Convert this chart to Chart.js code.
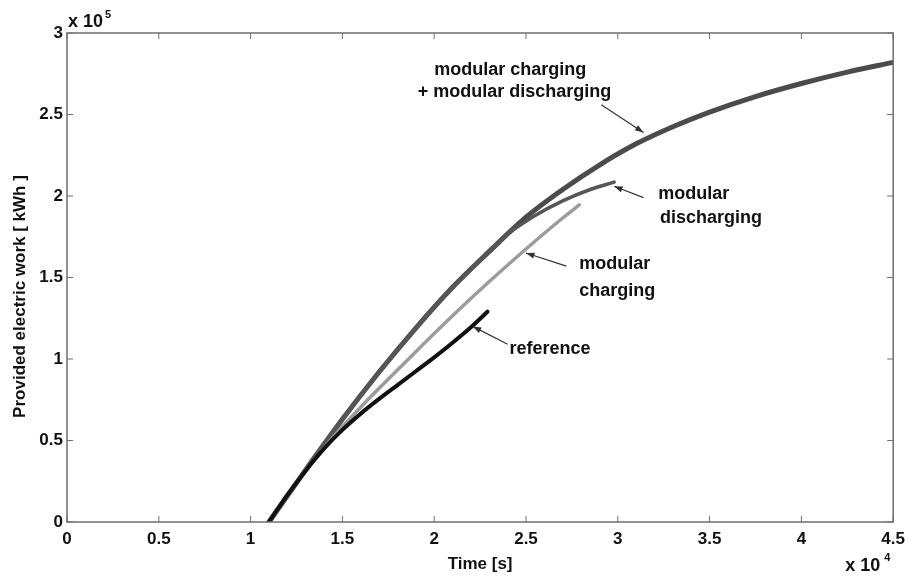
<!DOCTYPE html>
<html>
<head>
<meta charset="utf-8">
<script src="https://cdn.jsdelivr.net/npm/chart.js@4"></script>
<style>
    html, body { margin: 0; padding: 0; background: #fff; }
    #wrap { width: 912px; height: 579px; }
</style>
</head>
<body>
<div id="wrap"><canvas id="chart"></canvas></div>
<script>
// --- Data (time in 1e4 s, work in 1e5 kWh) ---
const combinedT = [1.1, 1.3, 1.5, 1.7, 1.9, 2.1, 2.3, 2.5, 2.7, 2.9, 3.1, 3.3, 3.5, 3.75, 4.0, 4.25, 4.5];
const combinedW = [0, 0.32, 0.63, 0.92, 1.19, 1.44, 1.66, 1.87, 2.04, 2.19, 2.32, 2.425, 2.515, 2.61, 2.69, 2.76, 2.82];

const dischargeT = [1.1, 1.3, 1.5, 1.7, 1.9, 2.1, 2.3, 2.4, 2.55, 2.7, 2.85, 2.98];
const dischargeW = [0, 0.32, 0.63, 0.92, 1.19, 1.44, 1.66, 1.765, 1.88, 1.97, 2.04, 2.085];

const chargeT = [1.1, 1.2, 1.3, 1.4, 1.5, 1.6, 1.7, 1.9, 2.1, 2.3, 2.5, 2.7, 2.79];
const chargeW = [0, 0.165, 0.315, 0.455, 0.585, 0.705, 0.82, 1.045, 1.265, 1.475, 1.675, 1.865, 1.945];

const referenceT = [1.1, 1.2, 1.3, 1.4, 1.5, 1.6, 1.7, 1.8, 1.9, 2.0, 2.1, 2.2, 2.29];
const referenceW = [0, 0.165, 0.315, 0.45, 0.565, 0.665, 0.755, 0.84, 0.925, 1.01, 1.1, 1.195, 1.29];

const xTicks = [0, 0.5, 1, 1.5, 2, 2.5, 3, 3.5, 4, 4.5];
const yTicks = [0, 0.5, 1, 1.5, 2, 2.5, 3];

// --- Annotations: text lines + arrows, placed in data units ---
const labels = [
    { x: 2.0, y: 2.77, text: "modular charging" },
    { x: 1.91, y: 2.635, text: "+ modular discharging" },
    { x: 3.22, y: 2.01, text: "modular" },
    { x: 3.23, y: 1.865, text: "discharging" },
    { x: 2.79, y: 1.58, text: "modular" },
    { x: 2.79, y: 1.42, text: "charging" },
    { x: 2.41, y: 1.06, text: "reference" }
];
const arrows = [
    { from: [2.91, 2.56], to: [3.14, 2.39] },
    { from: [3.14, 1.99], to: [2.98, 2.06] },
    { from: [2.72, 1.57], to: [2.50, 1.65] },
    { from: [2.40, 1.09], to: [2.21, 1.20] }
];

const FONT = "'Liberation Sans', Arial, sans-serif";

function pts(xs, ys) {
    return xs.map((x, i) => ({ x, y: ys[i] }));
}

function line(label, xs, ys, color, width, order) {
    return {
        label,
        data: pts(xs, ys),
        borderColor: color,
        borderWidth: width,
        pointRadius: 0,
        fill: false,
        cubicInterpolationMode: "monotone",
        borderCapStyle: "round",
        order
    };
}

// matlab-ish frame, inward ticks and the extra labels
const framePlugin = {
    id: "frame",
    afterDraw(chart) {
        const { ctx, chartArea: a, scales: { x, y } } = chart;
        ctx.save();
        ctx.strokeStyle = "#6e6e6e";
        ctx.lineWidth = 1.5;
        ctx.strokeRect(a.left, a.top, a.right - a.left, a.bottom - a.top);

        ctx.lineWidth = 1;
        ctx.beginPath();
        xTicks.forEach(v => {
            const px = x.getPixelForValue(v);
            ctx.moveTo(px, a.bottom); ctx.lineTo(px, a.bottom - 6);
            ctx.moveTo(px, a.top); ctx.lineTo(px, a.top + 6);
        });
        yTicks.forEach(v => {
            const py = y.getPixelForValue(v);
            ctx.moveTo(a.left, py); ctx.lineTo(a.left + 6, py);
            ctx.moveTo(a.right, py); ctx.lineTo(a.right - 6, py);
        });
        ctx.stroke();

        // annotations
        ctx.fillStyle = "#111";
        ctx.font = "bold 18px " + FONT;
        ctx.textBaseline = "middle";
        ctx.textAlign = "left";
        labels.forEach(l => {
            ctx.fillText(l.text, x.getPixelForValue(l.x), y.getPixelForValue(l.y));
        });

        ctx.strokeStyle = "#333";
        ctx.fillStyle = "#333";
        ctx.lineWidth = 1.2;
        arrows.forEach(ar => {
            const x0 = x.getPixelForValue(ar.from[0]), y0 = y.getPixelForValue(ar.from[1]);
            const x1 = x.getPixelForValue(ar.to[0]), y1 = y.getPixelForValue(ar.to[1]);
            const ang = Math.atan2(y1 - y0, x1 - x0);
            ctx.beginPath();
            ctx.moveTo(x0, y0); ctx.lineTo(x1, y1);
            ctx.stroke();
            ctx.beginPath();
            ctx.moveTo(x1, y1);
            ctx.lineTo(x1 - 9 * Math.cos(ang - 0.35), y1 - 9 * Math.sin(ang - 0.35));
            ctx.lineTo(x1 - 9 * Math.cos(ang + 0.35), y1 - 9 * Math.sin(ang + 0.35));
            ctx.closePath();
            ctx.fill();
        });

        // exponent labels
        ctx.fillStyle = "#111";
        ctx.font = "bold 18px " + FONT;
        ctx.textAlign = "left";
        ctx.fillText("x 10", a.left + 1, a.top - 11);
        ctx.font = "bold 11px " + FONT;
        ctx.fillText("5", a.left + 38, a.top - 18);
        ctx.font = "bold 18px " + FONT;
        ctx.fillText("x 10", a.right - 48, a.bottom + 44);
        ctx.font = "bold 11px " + FONT;
        ctx.fillText("4", a.right - 9, a.bottom + 36);

        // y axis title
        ctx.font = "bold 17px " + FONT;
        ctx.textAlign = "center";
        ctx.translate(20, (a.top + a.bottom) / 2 + 19);
        ctx.rotate(-Math.PI / 2);
        ctx.fillText("Provided electric work [ kWh ]", 0, 0);
        ctx.restore();
    }
};

new Chart(document.getElementById("chart"), {
    type: "line",
    data: {
        datasets: [
            line("modular charging + modular discharging", combinedT, combinedW, "#4b4b4b", 5, 4),
            line("modular discharging", dischargeT, dischargeW, "#565656", 3.5, 3),
            line("modular charging", chargeT, chargeW, "#9c9c9c", 3.5, 2),
            line("reference", referenceT, referenceW, "#111111", 4, 1)
        ]
    },
    options: {
        responsive: true,
        maintainAspectRatio: false,
        animation: false,
        layout: { padding: { top: 33, right: 17, left: 0, bottom: 0 } },
        plugins: {
            legend: { display: false },
            tooltip: { enabled: false }
        },
        scales: {
            x: {
                type: "linear",
                min: 0,
                max: 4.5,
                afterBuildTicks(s) { s.ticks = xTicks.map(v => ({ value: v })); },
                afterFit(s) { s.height = 57; },
                grid: { display: false, drawTicks: false },
                border: { display: false },
                ticks: {
                    color: "#111",
                    font: { family: FONT, size: 17, weight: "bold" },
                    padding: 7,
                    maxRotation: 0,
                    callback: v => String(+v)
                },
                title: {
                    display: true,
                    text: "Time [s]",
                    color: "#111",
                    font: { family: FONT, size: 17, weight: "bold" },
                    padding: { top: 0 }
                }
            },
            y: {
                min: 0,
                max: 3,
                afterBuildTicks(s) { s.ticks = yTicks.map(v => ({ value: v })); },
                afterFit(s) { s.width = 67; },
                grid: { display: false, drawTicks: false },
                border: { display: false },
                ticks: {
                    color: "#111",
                    font: { family: FONT, size: 17, weight: "bold" },
                    padding: 4,
                    callback: v => String(+v)
                }
            }
        }
    },
    plugins: [framePlugin]
});
</script>
</body>
</html>
